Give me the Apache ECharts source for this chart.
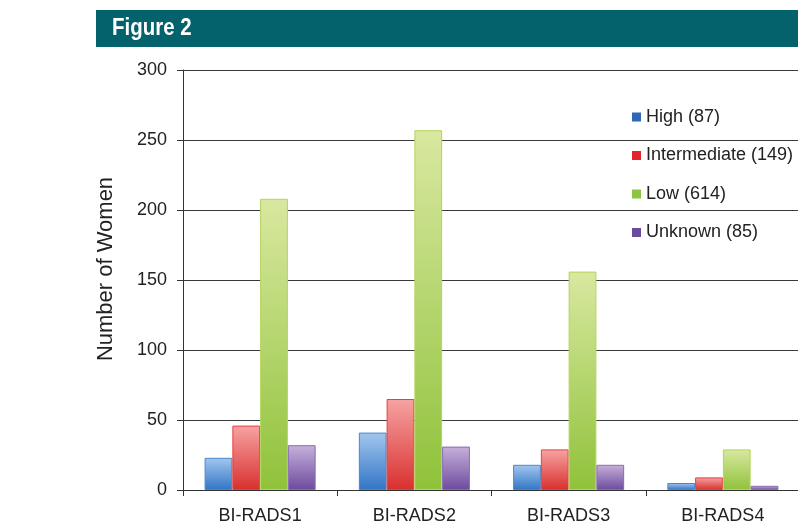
<!DOCTYPE html>
<html>
<head>
<meta charset="utf-8">
<script src="https://cdn.jsdelivr.net/npm/echarts@6/dist/echarts.min.js"></script>
<style>
html,body{margin:0;padding:0;background:#fff;}
#chart{width:798px;height:523px;}
</style>
</head>
<body>
<div id="chart"></div>
<script>
const categories = ['BI-RADS1', 'BI-RADS2', 'BI-RADS3', 'BI-RADS4'];
const seriesNames = ['High (87)', 'Intermediate (149)', 'Low (614)', 'Unknown (85)'];
const highValues = [23, 41, 18, 5];
const intermediateValues = [46, 65, 29, 9];
const lowValues = [208, 257, 156, 29];
const unknownValues = [32, 31, 18, 3];
const yTicks = [0, 50, 100, 150, 200, 250, 300];

const palettes = [
  {top: '#a3c7ee', bottom: '#3275c6', border: '#4a86cf', legend: '#2f66b8'},
  {top: '#f7a3a3', bottom: '#d8302e', border: '#e8403e', legend: '#e0262a'},
  {top: '#d9e8a0', bottom: '#8fc23a', border: '#b4d45a', legend: '#8cc63f'},
  {top: '#c6b1da', bottom: '#6d4a9e', border: '#8a6ab4', legend: '#6a4a9c'}
];
const allValues = [highValues, intermediateValues, lowValues, unknownValues];

const chart = echarts.init(document.getElementById('chart'), null, {renderer: 'canvas'});
const font = 'Liberation Sans, Arial, Helvetica, sans-serif';

const series = seriesNames.map((name, i) => ({
  name: name,
  type: 'bar',
  data: allValues[i],
  barGap: '0%',
  barCategoryGap: '28%',
  itemStyle: {
    color: new echarts.graphic.LinearGradient(0, 0, 0, 1, [
      {offset: 0, color: palettes[i].top},
      {offset: 1, color: palettes[i].bottom}
    ]),
    borderColor: palettes[i].border,
    borderWidth: 1
  }
}));

chart.setOption({
  animation: false,
  backgroundColor: '#ffffff',
  graphic: [
    {type: 'rect', shape: {x: 96, y: 10, width: 702, height: 37}, style: {fill: '#03626c'}, z: 10},
    {type: 'text', x: 112, y: 29, scaleX: 0.89, style: {text: 'Figure 2', fill: '#ffffff', font: 'bold 23px "Liberation Sans", Arial', textVerticalAlign: 'middle'}, z: 11}
  ],
  grid: {left: 183, right: -2, top: 70, bottom: 33, containLabel: false, outerBoundsMode: 'none'},
  legend: {
    orient: 'vertical',
    left: 627,
    top: 103,
    itemWidth: 9,
    itemHeight: 9,
    itemGap: 20.5,
    icon: 'rect',
    textStyle: {fontFamily: font, fontSize: 18, color: '#222'},
    data: seriesNames.map((n, i) => ({name: n, itemStyle: {color: palettes[i].legend, borderWidth: 0}}))
  },
  xAxis: {
    type: 'category',
    data: categories,
    axisLine: {show: true, lineStyle: {color: '#333', width: 1}},
    axisTick: {show: true, alignWithLabel: false, length: 6, lineStyle: {color: '#333'}},
    axisLabel: {fontFamily: font, fontSize: 18, color: '#222', margin: 17}
  },
  yAxis: {
    type: 'value',
    min: yTicks[0],
    max: yTicks[yTicks.length - 1],
    interval: yTicks[1] - yTicks[0],
    name: 'Number of Women',
    nameLocation: 'middle',
    nameRotate: 90,
    nameGap: 66,
    nameTextStyle: {fontFamily: font, fontSize: 22, color: '#222', padding: [0, 0, 0, 22]},
    axisLine: {show: true, lineStyle: {color: '#333', width: 1}},
    axisTick: {show: true, length: 6, lineStyle: {color: '#333'}},
    axisLabel: {fontFamily: font, fontSize: 18, color: '#222', margin: 16},
    splitLine: {show: true, lineStyle: {color: '#3a3a3a', width: 1}}
  },
  series: series
});
</script>
</body>
</html>
